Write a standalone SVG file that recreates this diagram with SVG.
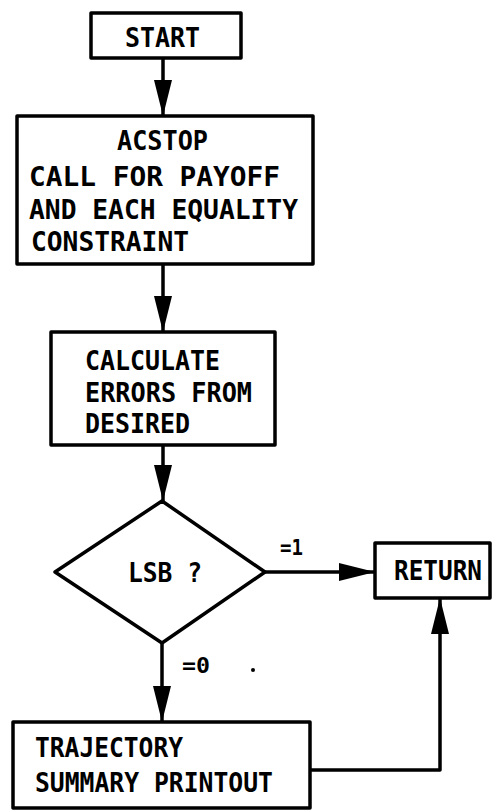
<svg xmlns="http://www.w3.org/2000/svg" width="494" height="810" viewBox="0 0 494 810">
<style>
.box{fill:#fff;stroke:#000;stroke-width:3.5;stroke-linejoin:round}
.con{fill:none;stroke:#000;stroke-width:3.5;stroke-linejoin:round}
text{font-family:"DejaVu Sans Mono","Liberation Mono",monospace;font-weight:bold;font-size:27px;fill:#000}
.lbl{font-size:22px}
</style>
<defs>
<marker id="ah" markerUnits="userSpaceOnUse" markerWidth="38" markerHeight="18" refX="36" refY="9" orient="auto">
<path d="M0,0 L36,9 L0,18 Z" fill="#000"/>
</marker>
</defs>
<rect width="494" height="810" fill="#fff"/>
<g id="connectors">
<line class="con" x1="163" y1="58" x2="163" y2="116" marker-end="url(#ah)"/>
<line class="con" x1="163" y1="264" x2="163" y2="332" marker-end="url(#ah)"/>
<line class="con" x1="163" y1="445" x2="163" y2="501" marker-end="url(#ah)"/>
<line class="con" x1="265" y1="572" x2="375" y2="572" marker-end="url(#ah)"/>
<line class="con" x1="162" y1="643" x2="162" y2="722" marker-end="url(#ah)"/>
<polyline class="con" points="310,770 440,770 440,598" marker-end="url(#ah)"/>
<text class="lbl" x="280" y="555" textLength="23" lengthAdjust="spacingAndGlyphs">=1</text>
<text class="lbl" x="182" y="673" textLength="28" lengthAdjust="spacingAndGlyphs">=0</text>
<circle cx="253" cy="670" r="2" fill="#000"/>
</g>
<g id="start">
<rect class="box" x="91" y="13" width="150" height="45"/>
<text x="125" y="47" font-size="29" textLength="75" lengthAdjust="spacingAndGlyphs">START</text>
</g>
<g id="acstop">
<rect class="box" x="17" y="116" width="296" height="148"/>
<text x="117" y="150" textLength="91" lengthAdjust="spacingAndGlyphs">ACSTOP</text>
<text x="29" y="186" textLength="251" lengthAdjust="spacingAndGlyphs">CALL FOR PAYOFF</text>
<text x="29" y="219" textLength="269" lengthAdjust="spacingAndGlyphs">AND EACH EQUALITY</text>
<text x="31" y="251" textLength="158" lengthAdjust="spacingAndGlyphs">CONSTRAINT</text>
</g>
<g id="calculate">
<rect class="box" x="51" y="332" width="224" height="113"/>
<text x="85" y="370" textLength="135" lengthAdjust="spacingAndGlyphs">CALCULATE</text>
<text x="85" y="402" textLength="167" lengthAdjust="spacingAndGlyphs">ERRORS FROM</text>
<text x="85" y="433" textLength="105" lengthAdjust="spacingAndGlyphs">DESIRED</text>
</g>
<g id="lsb">
<polygon class="box" points="162,501 265,572 162,643 55,572"/>
<text x="128" y="582" textLength="74" lengthAdjust="spacingAndGlyphs">LSB ?</text>
</g>
<g id="return">
<rect class="box" x="375" y="543" width="115" height="55"/>
<text x="394" y="580" textLength="88" lengthAdjust="spacingAndGlyphs">RETURN</text>
</g>
<g id="trajectory">
<rect class="box" x="13" y="722" width="297" height="86"/>
<text x="35" y="757" textLength="148" lengthAdjust="spacingAndGlyphs">TRAJECTORY</text>
<text x="35" y="792" textLength="238" lengthAdjust="spacingAndGlyphs">SUMMARY PRINTOUT</text>
</g>
</svg>
